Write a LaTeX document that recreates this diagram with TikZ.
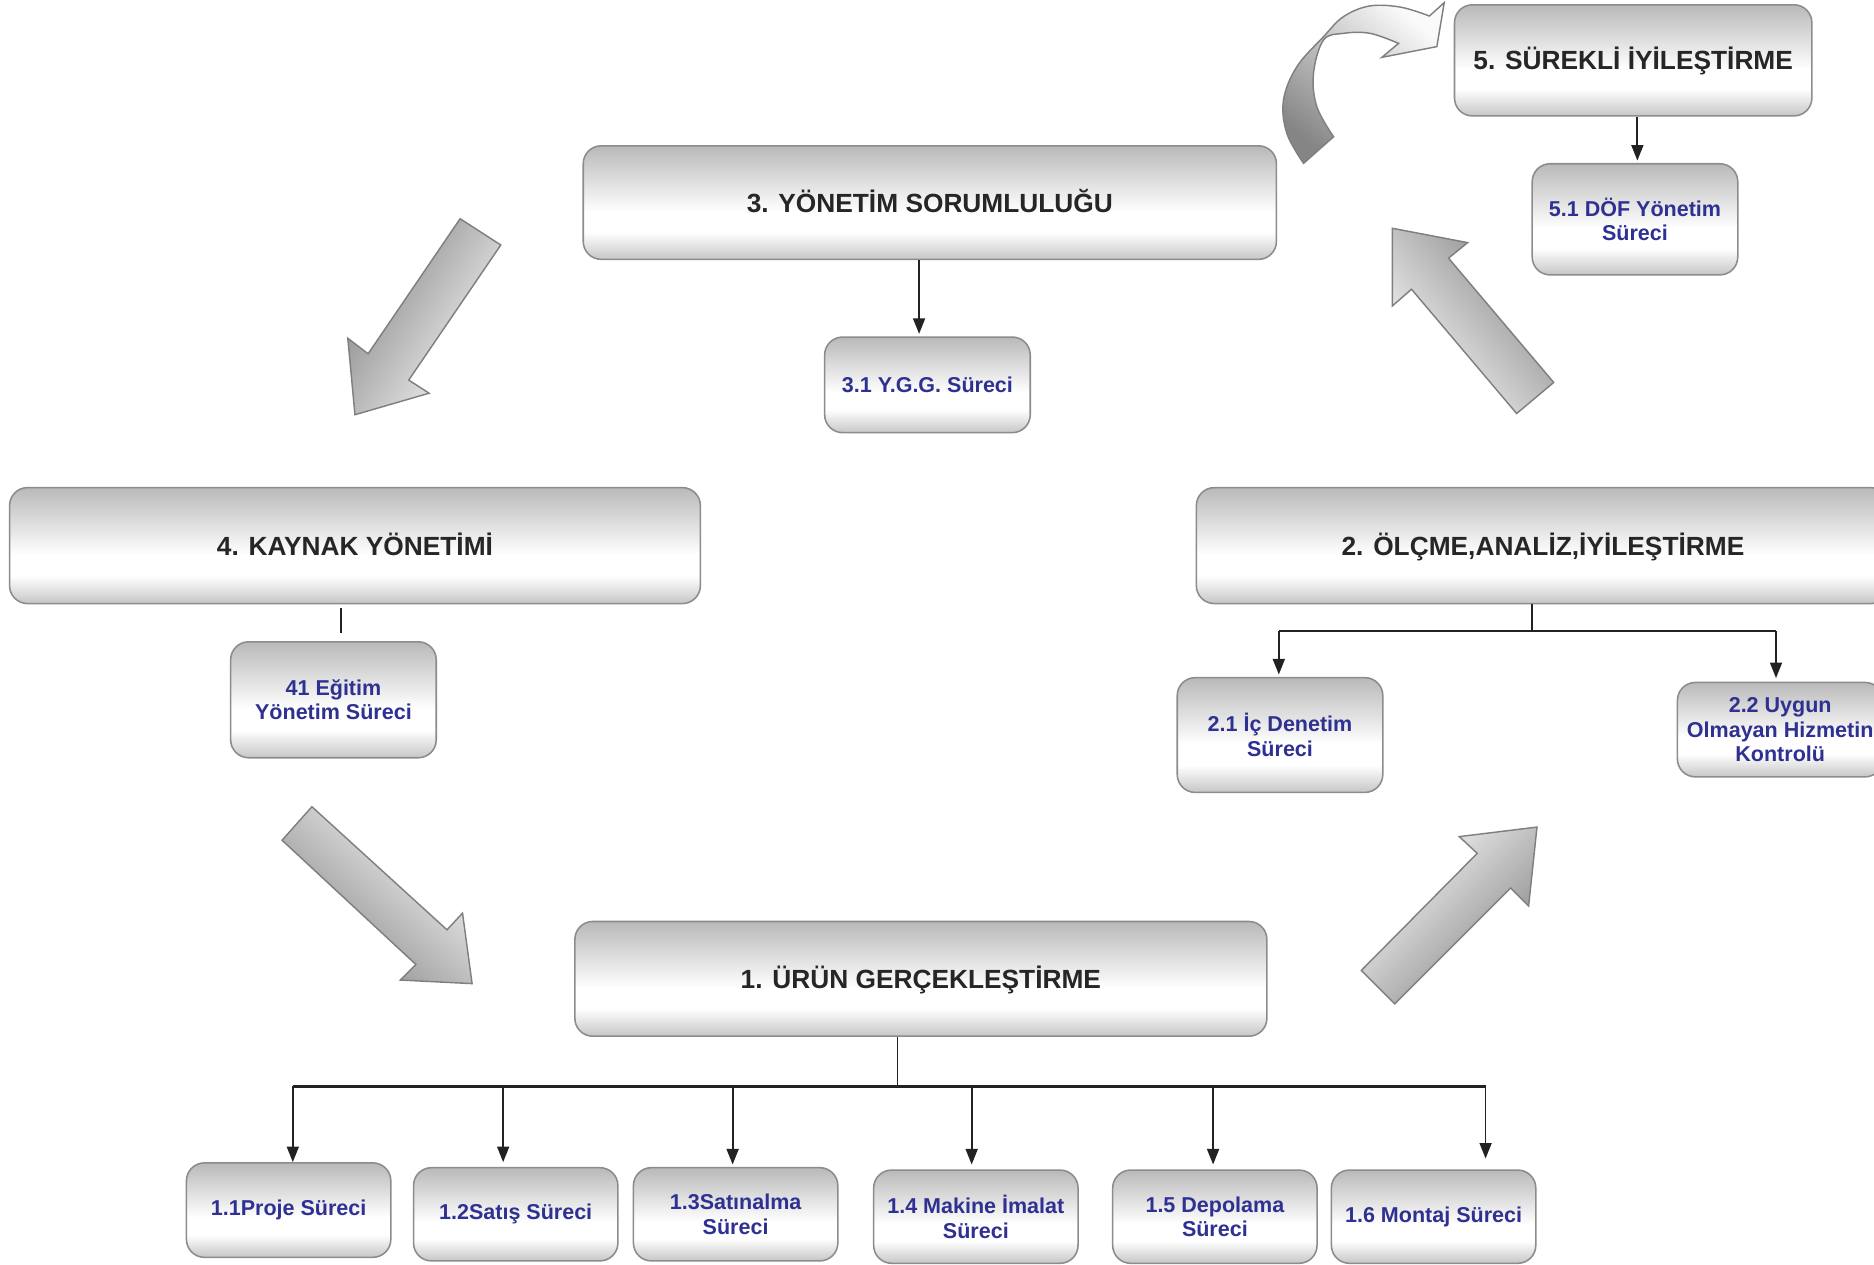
\documentclass[tikz,border=0pt]{standalone}
\usepackage{fontspec}
\setmainfont{Liberation Sans}
\usetikzlibrary{arrows.meta}
\definecolor{bgtop}{HTML}{B9B9B9}
\definecolor{bgbot}{HTML}{C6C6C6}
\definecolor{boxline}{HTML}{8C8C8C}
\definecolor{txtdark}{HTML}{262626}
\definecolor{txtblue}{HTML}{2E3192}
\definecolor{arrdark}{HTML}{858585}
\definecolor{arrlight}{HTML}{FAFAFA}
\definecolor{arrline}{HTML}{7F7F7F}
\definecolor{conncol}{HTML}{222222}
\pgfdeclareverticalshading{boxshade}{100bp}{color(0bp)=(bgbot); color(25bp)=(bgbot); color(37bp)=(white); color(46bp)=(white); color(75bp)=(bgtop); color(100bp)=(bgtop)}
\newcommand{\bigtxt}{\fontsize{22}{26}\selectfont\bfseries}
\newcommand{\smalltxt}{\fontsize{18}{20.5}\selectfont\bfseries}
\tikzset{
  box/.style={draw=boxline, line width=1.3pt, rounded corners=15pt, shade, shading=boxshade, inner sep=0pt, align=center},
  bigbox/.style={box, font=\bigtxt, text=txtdark, text height=16pt, text depth=0pt},
  smallbox/.style={box, font=\smalltxt, text=txtblue},
  conn/.style={draw=conncol, line width=1.5pt},
  arr/.style={conn, -{Triangle[length=13pt,width=10pt]}},
  fat/.style={draw=arrline, line width=1.2pt, line join=miter}
}
\begin{document}
\begin{tikzpicture}[x=1pt,y=-1pt]
\useasboundingbox (0,0) rectangle (1568,1058.4);
\fill[white] (0,0) rectangle (1568,1058.4);

% block arrows
\draw[fat, top color=arrlight, bottom color=arrdark, shading angle=-123]
  (385,183) -- (419,205) -- (342,318) -- (359,329) -- (297,347) -- (291,283) -- (308,296) -- cycle;
\draw[fat, top color=arrlight, bottom color=arrdark, shading angle=-41.8]
  (261,675) -- (374,778) -- (387,764) -- (395,823) -- (335,820) -- (348,807) -- (236,703) -- cycle;
\draw[fat, top color=arrlight, bottom color=arrdark, shading angle=45]
  (1139,812) -- (1236,714) -- (1221,700) -- (1286,692) -- (1279,758) -- (1264,743) -- (1167,840) -- cycle;
\draw[fat, top color=arrlight, bottom color=arrdark, shading angle=130]
  (1165,191) -- (1228,203) -- (1212,216) -- (1300,320) -- (1269,346) -- (1181,242) -- (1165,256) -- cycle;
% curved arrow
\draw[fat, top color=arrlight, bottom color=arrdark, shading angle=-40]
  plot[smooth, tension=0.6] coordinates {(1090.7,136.7) (1076.7,111.6) (1073.9,83.7) (1085.1,55.8) (1107.4,30.7) (1124,14) (1146,5) (1172,6) (1196,13.4)}
  -- (1208.4,2.2) -- (1202.2,39) -- (1156.2,48) -- (1170.2,36.3)
  -- plot[smooth, tension=0.6] coordinates {(1170.2,36.3) (1146.4,27.9) (1124,27.9) (1107.4,33.5) (1099,61.4) (1101.8,89.3) (1115.8,114.4)}
  -- cycle;

% boxes
\node[bigbox, minimum width=299pt, minimum height=93pt] (b5) at (1366.5,50.5) {5. SÜREKLİ İYİLEŞTİRME};
\node[smallbox, minimum width=172pt, minimum height=93pt] (b51) at (1368,183.5) {5.1 DÖF Yönetim\\Süreci};
\node[bigbox, minimum width=580pt, minimum height=95pt] (b3) at (778,169.5) {3. YÖNETİM SORUMLULUĞU};
\node[smallbox, minimum width=172pt, minimum height=80pt] (b31) at (776,322) {3.1 Y.G.G. Süreci};
\node[bigbox, minimum width=578pt, minimum height=97pt] (b4) at (297,456.5) {4. KAYNAK YÖNETİMİ};
\node[smallbox, minimum width=172pt, minimum height=97pt] (b41) at (279,585.5) {41 Eğitim\\Yönetim Süreci};
\node[bigbox, minimum width=580pt, minimum height=97pt] (b2) at (1291,456.5) {2. ÖLÇME,ANALİZ,İYİLEŞTİRME};
\node[smallbox, minimum width=172pt, minimum height=96pt] (b21) at (1071,615) {2.1 İç Denetim\\Süreci};
\node[smallbox, minimum width=172pt, minimum height=79pt] (b22) at (1489.5,610.5) {2.2 Uygun\\Olmayan Hizmetin\\Kontrolü};
\node[bigbox, minimum width=579pt, minimum height=96pt] (b1) at (770.5,819) {1. ÜRÜN GERÇEKLEŞTİRME};
\node[smallbox, minimum width=171pt, minimum height=79pt] (b11) at (241.5,1012.5) {\raisebox{-3pt}{1.1Proje Süreci}};
\node[smallbox, minimum width=171pt, minimum height=78pt] (b12) at (431.5,1016) {\raisebox{-3pt}{1.2Satış Süreci}};
\node[smallbox, minimum width=171pt, minimum height=78pt] (b13) at (615.5,1016) {\raisebox{-2pt}{1.3Satınalma}\\\raisebox{-2pt}{Süreci}};
\node[smallbox, minimum width=171pt, minimum height=78pt] (b14) at (816.5,1018) {1.4 Makine İmalat\\Süreci};
\node[smallbox, minimum width=171pt, minimum height=78pt] (b15) at (1016.5,1018) {1.5 Depolama\\Süreci};
\node[smallbox, minimum width=171pt, minimum height=78pt] (b16) at (1199.5,1018) {\raisebox{-3pt}{1.6 Montaj Süreci}};

% connectors
\coordinate (x5) at (1370,0);
\draw[arr, shorten >=2pt] (b5.south -| x5) -- (b51.north -| x5);
\coordinate (x3) at (769,0);
\draw[arr, shorten >=2pt] (b3.south -| x3) -- (b31.north -| x3);
\coordinate (e4) at (285,530);
\draw[conn] (b4.south -| e4) ++(0,3) -- (e4);

\coordinate (h2) at (1282,528);
\coordinate (h2l) at (1070,528);
\coordinate (h2r) at (1486,528);
\draw[conn] (b2.south -| h2) -- (h2);
\draw[conn] (h2l) -- (h2r);
\draw[arr, shorten >=2pt] (h2l) -- (b21.north -| h2l);
\draw[arr, shorten >=3pt] (h2r) -- (b22.north -| h2r);

\coordinate (h1) at (751,909);
\coordinate (h1l) at (245,909);
\coordinate (h1r) at (1243,909);
\draw[conn] (b1.south -| h1) -- (h1);
\draw[conn, line width=2pt] (h1l) -- (h1r);
\coordinate (d11) at (245,909);
\coordinate (d12) at (421,909);
\coordinate (d13) at (613,909);
\coordinate (d14) at (813,909);
\coordinate (d15) at (1015,909);
\coordinate (d16) at (1243,909);
\draw[arr] (d11) -- (b11.north -| d11);
\draw[arr, shorten >=4pt] (d12) -- (b12.north -| d12);
\draw[arr, shorten >=2pt] (d13) -- (b13.north -| d13);
\draw[arr, shorten >=4pt] (d14) -- (b14.north -| d14);
\draw[arr, shorten >=4pt] (d15) -- (b15.north -| d15);
\draw[arr, shorten >=9pt] (d16) -- (b16.north -| d16);
\end{tikzpicture}
\end{document}
